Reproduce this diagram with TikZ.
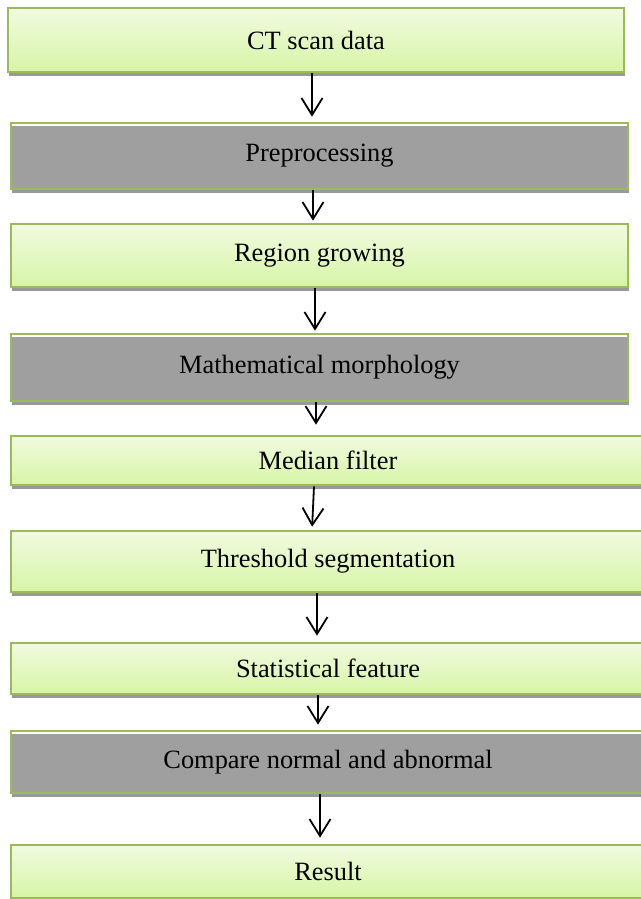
\documentclass[tikz,border=0pt]{standalone}
\usepackage{fontspec}
\setmainfont{Liberation Serif}
\usetikzlibrary{arrows.meta,shadows}
\definecolor{gborder}{HTML}{9BBB59}
\definecolor{gtop}{HTML}{F2FAE0}
\definecolor{gbot}{HTML}{D6F5A6}
\definecolor{grayfill}{HTML}{9F9F9F}
\definecolor{shadowgray}{HTML}{999999}
\tikzset{
  boxbase/.style={rectangle, draw=gborder, line width=2.6pt, inner sep=0pt,
    font=\fontsize{26.4}{30}\selectfont,
    drop shadow={shadow xshift=1pt, shadow yshift=-4pt, opacity=1, fill=shadowgray}},
  greenbox/.style={boxbase, top color=gtop, bottom color=gbot},
  graybox/.style={boxbase, fill=grayfill},
  arr/.style={draw=black, line width=1.8pt, -{Straight Barb[length=17pt,width=21pt,line width=1.8pt]}},
  hilite/.style={draw=white, line width=1.6pt}
}
\begin{document}
\begin{tikzpicture}[x=1pt,y=-1pt]
\useasboundingbox[fill=white] (0,0) rectangle (640,899);
\node[greenbox, minimum width=616pt, minimum height=64pt] (b1) at (316,40) {CT scan data};
\node[graybox,  minimum width=617pt, minimum height=66pt] (b2) at (319.5,156) {Preprocessing};
\node[greenbox, minimum width=617pt, minimum height=63pt] (b3) at (319.5,255.5) {Region growing};
\node[graybox,  minimum width=617pt, minimum height=67pt] (b4) at (319.5,367.5) {Mathematical morphology};
\node[greenbox, minimum width=634pt, minimum height=49pt] (b5) at (328,460.5) {Median filter};
\node[greenbox, minimum width=634pt, minimum height=61pt] (b6) at (328,561.5) {Threshold segmentation};
\node[greenbox, minimum width=634pt, minimum height=51pt] (b7) at (328,668.5) {Statistical feature};
\node[graybox,  minimum width=634pt, minimum height=62pt] (b8) at (328,762) {Compare normal and abnormal};
\node[greenbox, minimum width=634pt, minimum height=53pt] (b9) at (328,871.5) {Result};
\foreach \b in {b2,b4,b8}{
  \draw[hilite] ([xshift=2.5pt,yshift=-3.5pt]\b.north west) -- ([xshift=-2.5pt,yshift=-3.5pt]\b.north east);
}
\draw[arr, shorten >=5pt] ([xshift=-4pt]b1.south) -- ([xshift=-7.5pt]b2.north);
\draw[arr, shorten >=2pt] ([xshift=-6.5pt]b2.south) -- ([xshift=-6.5pt]b3.north);
\draw[arr, shorten >=2pt] ([xshift=-4.5pt]b3.south) -- ([xshift=-4.5pt]b4.north);
\draw[arr, shorten >=10pt] ([xshift=-3.5pt]b4.south) -- ([xshift=-12pt]b5.north);
\draw[arr, shorten >=3pt] ([xshift=-14pt]b5.south) -- ([xshift=-16pt]b6.north);
\draw[arr, shorten >=6pt] ([xshift=-11pt]b6.south) -- ([xshift=-11pt]b7.north);
\draw[arr, shorten >=5pt] ([xshift=-10pt]b7.south) -- ([xshift=-10pt]b8.north);
\draw[arr, shorten >=6pt] ([xshift=-8pt]b8.south) -- ([xshift=-8pt]b9.north);
\end{tikzpicture}
\end{document}
